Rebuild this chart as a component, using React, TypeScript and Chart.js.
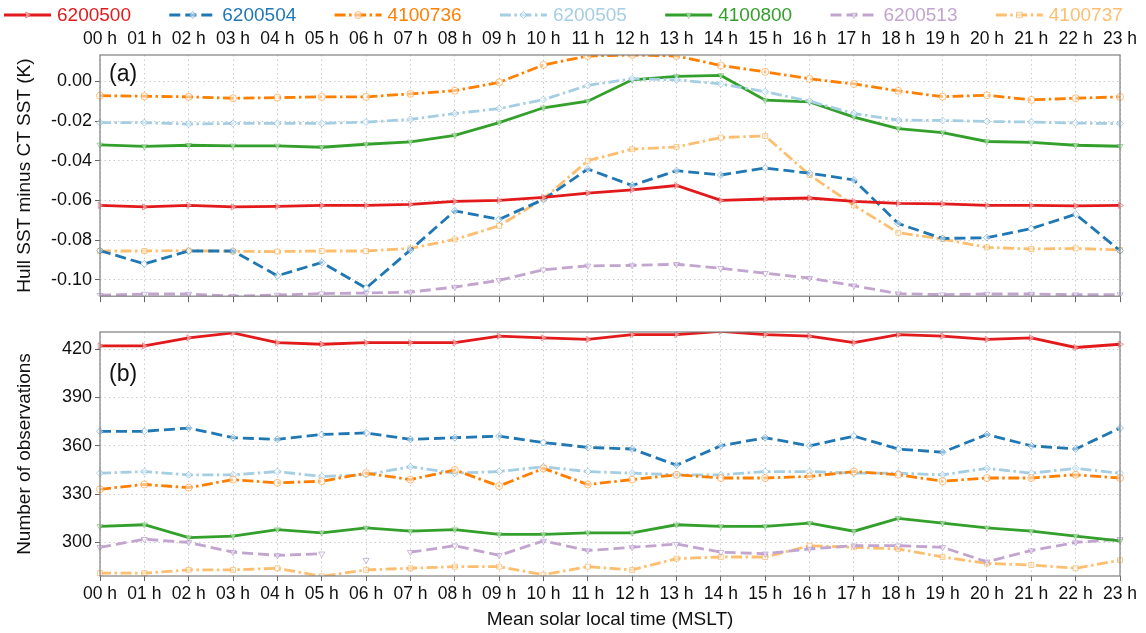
import React, { useEffect, useRef } from 'react';
import { Chart, registerables } from 'chart.js';

Chart.register(...registerables);

const FONT = '"Liberation Sans", Arial, Helvetica, sans-serif';
Chart.defaults.font.family = FONT;
Chart.defaults.color = '#111';

const hours = ['00 h', '01 h', '02 h', '03 h', '04 h', '05 h', '06 h', '07 h', '08 h', '09 h', '10 h', '11 h',
  '12 h', '13 h', '14 h', '15 h', '16 h', '17 h', '18 h', '19 h', '20 h', '21 h', '22 h', '23 h'];

const seriesNames = ['6200500', '6200504', '4100736', '6200505', '4100800', '6200513', '4100737'];

// Panel (a): Hull SST minus CT SST (K)
const diff6200500 = [-0.0625, -0.0633, -0.0625, -0.0633, -0.063, -0.0625, -0.0625, -0.062, -0.0605, -0.06, -0.0585, -0.0563, -0.0547, -0.0525, -0.06, -0.0593, -0.0588, -0.0605, -0.0615, -0.0618, -0.0625, -0.0625, -0.0628, -0.0625];
const diff6200504 = [-0.0853, -0.092, -0.0855, -0.0855, -0.098, -0.0913, -0.1042, -0.085, -0.0653, -0.0695, -0.0595, -0.0442, -0.0525, -0.045, -0.0472, -0.0437, -0.0463, -0.0497, -0.0717, -0.0792, -0.0788, -0.0742, -0.067, -0.0853];
const diff4100736 = [-0.0072, -0.0075, -0.0078, -0.0085, -0.0082, -0.0078, -0.0078, -0.0063, -0.0047, -0.0005, 0.0083, 0.0128, 0.0133, 0.0128, 0.008, 0.0048, 0.0013, -0.0013, -0.0048, -0.0077, -0.007, -0.0093, -0.0085, -0.0078];
const diff6200505 = [-0.0208, -0.0208, -0.0215, -0.0212, -0.0212, -0.0212, -0.0205, -0.0192, -0.0162, -0.0137, -0.0092, -0.002, 0.0013, 0.0008, -0.0013, -0.0052, -0.01, -0.0162, -0.0195, -0.0197, -0.0202, -0.0205, -0.021, -0.0213];
const diff4100800 = [-0.032, -0.0328, -0.0322, -0.0325, -0.0325, -0.0332, -0.0317, -0.0305, -0.0272, -0.0208, -0.0133, -0.01, 0.0008, 0.0025, 0.003, -0.0095, -0.0103, -0.018, -0.0238, -0.0258, -0.0303, -0.0308, -0.0322, -0.0327];
const diff6200513 = [-0.1078, -0.1072, -0.1072, -0.1083, -0.1077, -0.107, -0.1067, -0.1062, -0.1037, -0.1003, -0.095, -0.093, -0.0928, -0.0922, -0.0942, -0.0967, -0.0992, -0.103, -0.107, -0.1075, -0.1072, -0.1072, -0.1075, -0.1075];
const diff4100737 = [-0.0855, -0.0855, -0.0853, -0.0857, -0.0858, -0.0855, -0.0855, -0.0842, -0.0797, -0.0728, -0.0592, -0.04, -0.0342, -0.033, -0.0283, -0.0275, -0.0472, -0.0625, -0.0763, -0.0795, -0.0837, -0.0845, -0.0842, -0.085];

// Panel (b): Number of observations
const n6200500 = [422, 422, 427, 430, 424, 423, 424, 424, 424, 428, 427, 426, 429, 429, 431, 429, 428, 424, 429, 428, 426, 427, 421, 423];
const n6200504 = [369, 369, 371, 365, 364, 367, 368, 364, 365, 366, 362, 359, 358, 348, 360, 365, 360, 366, 358, 356, 367, 360, 358, 371];
const n4100736 = [333, 336, 334, 339, 337, 338, 343, 339, 345, 335, 346, 336, 339, 342, 340, 340, 341, 344, 342, 338, 340, 340, 342, 340];
const n6200505 = [343, 344, 342, 342, 344, 341, 342, 347, 343, 344, 347, 344, 343, 342, 342, 344, 344, 343, 343, 342, 346, 343, 346, 343];
const n4100800 = [310, 311, 303, 304, 308, 306, 309, 307, 308, 305, 305, 306, 306, 311, 310, 310, 312, 307, 315, 312, 309, 307, 304, 301];
const n6200513 = [297, 302, 300, 294, 292, 293, 289, 294, 298, 292, 301, 295, 297, 299, 294, 293, 296, 298, 298, 297, 288, 295, 300, 302];
const n4100737 = [281, 281, 283, 283, 284, 279, 283, 284, 285, 285, 280, 285, 283, 290, 291, 291, 298, 297, 296, 291, 287, 286, 284, 289];

const diffTicks = [0, -0.02, -0.04, -0.06, -0.08, -0.1];
const countTicks = [300, 330, 360, 390, 420];

const colors = ['#e31a1c', '#1f78b4', '#ff7f00', '#a6cee3', '#33a02c', '#c2a5cf', '#fdbf6f'];
const markerColors = ['rgba(227,26,28,0.45)', 'rgba(31,120,180,0.45)', 'rgba(255,127,0,0.5)', 'rgba(120,180,220,0.6)', 'rgba(51,160,44,0.45)', 'rgba(170,140,200,0.6)', 'rgba(240,170,80,0.6)'];
const dashes: number[][] = [[], [11, 5], [11, 3.5, 2.5, 3.5], [11, 3.5, 2.5, 3.5], [], [11, 5], [11, 3.5, 2.5, 3.5]];
const pointStyles = ['triangle', 'rectRot', 'circle', 'rectRot', 'triangle', 'triangle', 'rect'];
const pointRotations = [90, 0, 0, 0, 180, 180, 0];

const GRID = '#cccccc';
const LW = 2.8;

function makeDatasets(values: number[][], purpleGap: boolean) {
  return seriesNames.map((name, i) => ({
    label: name,
    data: values[i],
    borderColor: colors[i],
    backgroundColor: colors[i],
    borderWidth: LW,
    borderDash: dashes[i],
    pointStyle: pointStyles[i],
    pointRotation: pointRotations[i],
    pointRadius: 3.5,
    pointBorderWidth: 1,
    pointBorderColor: markerColors[i],
    pointBackgroundColor: 'rgba(255,255,255,0.5)',
    tension: 0,
    fill: false,
    segment: purpleGap && i === 5
      ? { borderColor: (ctx: any) => (ctx.p0DataIndex === 5 || ctx.p0DataIndex === 6 ? 'rgba(0,0,0,0)' : undefined) }
      : undefined,
  }));
}

function drawMarker(ctx: CanvasRenderingContext2D, style: string, rot: number, x: number, y: number, r: number) {
  ctx.beginPath();
  if (style === 'circle') {
    ctx.arc(x, y, r, 0, Math.PI * 2);
  } else if (style === 'rect') {
    ctx.rect(x - r * 0.8, y - r * 0.8, r * 1.6, r * 1.6);
  } else if (style === 'rectRot') {
    ctx.moveTo(x, y - r); ctx.lineTo(x + r, y); ctx.lineTo(x, y + r); ctx.lineTo(x - r, y); ctx.closePath();
  } else {
    const a0 = (rot * Math.PI) / 180;
    for (let k = 0; k < 3; k++) {
      const a = a0 - Math.PI / 2 + (k * 2 * Math.PI) / 3;
      const px = x + r * Math.cos(a);
      const py = y + r * Math.sin(a);
      if (k === 0) ctx.moveTo(px, py); else ctx.lineTo(px, py);
    }
    ctx.closePath();
  }
  ctx.fill();
  ctx.stroke();
}

const framePlugin = {
  id: 'frameLabel',
  afterDraw(chart: any, _args: any, opts: any) {
    const { ctx, chartArea: a } = chart;
    ctx.save();
    ctx.setLineDash([]);
    ctx.strokeStyle = '#7f7f7f';
    ctx.lineWidth = 1.2;
    ctx.strokeRect(a.left, a.top, a.right - a.left, a.bottom - a.top);
    ctx.fillStyle = '#111';
    ctx.font = `23px ${FONT}`;
    ctx.textBaseline = 'middle';
    ctx.textAlign = 'left';
    ctx.fillText(opts.label, a.left + 9, a.top + opts.dy);
    ctx.restore();
  },
};

const legendPlugin = {
  id: 'topLegend',
  afterDraw(chart: any) {
    const ctx: CanvasRenderingContext2D = chart.ctx;
    ctx.save();
    const y = 15;
    seriesNames.forEach((name, i) => {
      const x0 = 4 + i * 165.3;
      ctx.strokeStyle = colors[i];
      ctx.lineWidth = LW;
      ctx.setLineDash(dashes[i]);
      ctx.beginPath();
      ctx.moveTo(x0, y);
      ctx.lineTo(x0 + 47, y);
      ctx.stroke();
      ctx.setLineDash([]);
      ctx.lineWidth = 1;
      ctx.strokeStyle = markerColors[i];
      ctx.fillStyle = 'rgba(255,255,255,0.5)';
      drawMarker(ctx, pointStyles[i], pointRotations[i], x0 + 23.5, y, 3.5);
      ctx.fillStyle = colors[i];
      ctx.font = `19px ${FONT}`;
      ctx.textBaseline = 'middle';
      ctx.textAlign = 'left';
      ctx.fillText(name, x0 + 53, y + 1);
    });
    ctx.restore();
  },
};

const noSidePad = (s: any) => { s.paddingLeft = 0; s.paddingRight = 0; };

export default function App() {
  const topRef = useRef<HTMLCanvasElement>(null);
  const botRef = useRef<HTMLCanvasElement>(null);

  useEffect(() => {
    const top = new Chart(topRef.current!, {
      type: 'line',
      data: {
        labels: hours,
        datasets: makeDatasets([diff6200500, diff6200504, diff4100736, diff6200505, diff4100800, diff6200513, diff4100737], false) as any,
      },
      options: {
        responsive: false,
        animation: false,
        devicePixelRatio: 1,
        layout: { padding: { top: 22, left: 13, right: 26, bottom: 0 } },
        plugins: {
          legend: { display: false },
          tooltip: { enabled: false },
          frameLabel: { label: '(a)', dy: 20 },
        } as any,
        scales: {
          x: {
            type: 'category',
            position: 'top',
            offset: false,
            grid: { display: true, drawOnChartArea: true, drawTicks: false, color: GRID, lineWidth: 1 },
            border: { display: false, dash: [1.5, 3] },
            ticks: { autoSkip: false, maxRotation: 0, minRotation: 0, padding: 5, font: { size: 17.5 }, color: '#111' },
            afterFit: (s: any) => { s.height = 33; noSidePad(s); },
          },
          x2: {
            type: 'category',
            position: 'bottom',
            labels: hours,
            offset: false,
            grid: { display: true, drawOnChartArea: false, drawTicks: true, tickLength: 6, tickColor: '#666', tickWidth: 1, tickBorderDash: [] },
            border: { display: false },
            ticks: { autoSkip: false, maxRotation: 0, callback: () => '', font: { size: 1 } },
            afterFit: (s: any) => { s.height = 12; noSidePad(s); },
          },
          y: {
            position: 'left',
            min: -0.1083,
            max: 0.0133,
            afterBuildTicks: (s: any) => { s.ticks = diffTicks.map((v) => ({ value: v })); },
            grid: { color: GRID, drawTicks: true, tickLength: 5, tickColor: '#666', tickBorderDash: [] },
            border: { display: false, dash: [1.5, 3] },
            ticks: { padding: 3, font: { size: 18 }, color: '#111', callback: (v: any) => Number(v).toFixed(2) },
            title: { display: true, text: 'Hull SST minus CT SST (K)', font: { size: 19 }, color: '#111', padding: 0 },
            afterFit: (s: any) => { s.width = 87; },
          },
        },
      } as any,
      plugins: [framePlugin, legendPlugin],
    });

    const bot = new Chart(botRef.current!, {
      type: 'line',
      data: {
        labels: hours,
        datasets: makeDatasets([n6200500, n6200504, n4100736, n6200505, n4100800, n6200513, n4100737], true) as any,
      },
      options: {
        responsive: false,
        animation: false,
        devicePixelRatio: 1,
        layout: { padding: { top: 22, left: 13, right: 26, bottom: 2 } },
        plugins: {
          legend: { display: false },
          tooltip: { enabled: false },
          frameLabel: { label: '(b)', dy: 43 },
        } as any,
        scales: {
          x: {
            type: 'category',
            position: 'bottom',
            offset: false,
            grid: { display: true, drawOnChartArea: true, drawTicks: true, tickLength: 5, color: GRID, tickColor: '#666', tickBorderDash: [] },
            border: { display: false, dash: [1.5, 3] },
            ticks: { autoSkip: false, maxRotation: 0, minRotation: 0, padding: 3, font: { size: 17.5 }, color: '#111' },
            title: { display: true, text: 'Mean solar local time (MSLT)', font: { size: 19 }, color: '#111', padding: 0 },
            afterFit: (s: any) => { s.height = 55; noSidePad(s); },
          },
          y: {
            position: 'left',
            min: 279.2,
            max: 430.6,
            afterBuildTicks: (s: any) => { s.ticks = countTicks.map((v) => ({ value: v })); },
            grid: { color: GRID, drawTicks: true, tickLength: 5, tickColor: '#666', tickBorderDash: [] },
            border: { display: false, dash: [1.5, 3] },
            ticks: { padding: 3, font: { size: 18 }, color: '#111' },
            title: { display: true, text: 'Number of observations', font: { size: 19 }, color: '#111', padding: 0 },
            afterFit: (s: any) => { s.width = 87; },
          },
        },
      } as any,
      plugins: [framePlugin],
    });

    return () => { top.destroy(); bot.destroy(); };
  }, []);

  return (
    <div style={{ position: 'absolute', left: 0, top: 0, width: 1146, height: 633, background: '#fff' }}>
      <canvas ref={topRef} width={1146} height={310} style={{ position: 'absolute', left: 0, top: 0, display: 'block' }} />
      <canvas ref={botRef} width={1146} height={323} style={{ position: 'absolute', left: 0, top: 310, display: 'block' }} />
    </div>
  );
}
